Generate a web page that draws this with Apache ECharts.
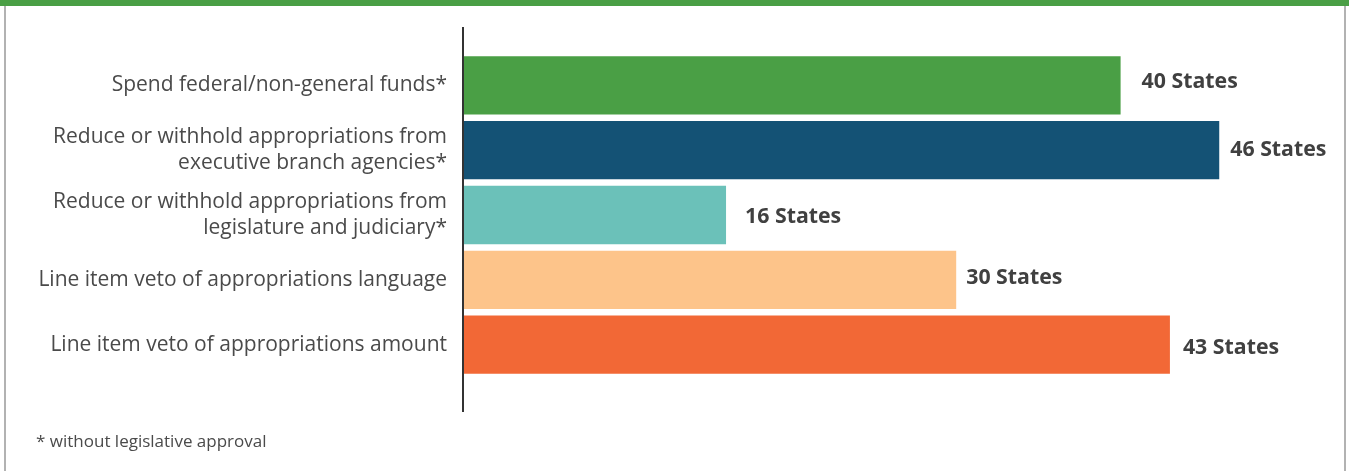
<!DOCTYPE html>
<html><head><meta charset="utf-8">
<script src="https://cdn.jsdelivr.net/npm/echarts@6/dist/echarts.min.js"></script>
<style>html,body{margin:0;padding:0;background:#fff}#c{width:1349px;height:471px}</style>
</head><body><div id="c"></div>
<script>
const categories = [
  "Spend federal/non-general funds*",
  "Reduce or withhold appropriations from\nexecutive branch agencies*",
  "Reduce or withhold appropriations from\nlegislature and judiciary*",
  "Line item veto of appropriations language",
  "Line item veto of appropriations amount"
];
const values = [40, 46, 16, 30, 43];
const colors = ["#4a9f45", "#145275", "#6bc1b9", "#fdc48a", "#f26836"];
const footnote = "* without legislative approval";
// label placement tweaks (gap from bar end, vertical shift)
const labelGap = [21, 11, 19, 10, 13];
const labelShift = [-3, 0, 2, -1.5, 3.5];

const chart = echarts.init(document.getElementById('c'), null, {renderer: 'canvas'});
const FONT = "'Open Sans', 'Noto Sans', sans-serif";
chart.setOption({
  animation: false,
  grid: {left: 463, right: 64, top: 53, bottom: 94, containLabel: false},
  xAxis: {type: 'value', min: 0, max: 50, show: false},
  yAxis: {
    type: 'category', inverse: true, data: categories,
    axisLine: {show: false}, axisTick: {show: false},
    axisLabel: {margin: 16, color: '#4a4a4a', fontSize: 21, fontFamily: FONT, lineHeight: 26, align: 'right'}
  },
  series: [{
    type: 'bar', barCategoryGap: '10%',
    data: values.map((v, i) => ({value: v, itemStyle: {color: colors[i]},
      label: {distance: labelGap[i], offset: [0, labelShift[i]]}})),
    label: {show: true, position: 'right', formatter: p => p.value + ' States',
      color: '#404040', fontSize: 21.3, fontWeight: 'bold', fontFamily: FONT}
  }],
  graphic: [
    {type: 'rect', shape: {x: 5, y: 0, width: 1340, height: 480}, style: {fill: 'none', stroke: '#999', lineWidth: 1.5}, z: 1},
    {type: 'rect', shape: {x: 0, y: 0, width: 1349, height: 6}, style: {fill: '#4a9f45'}, z: 2},
    {type: 'line', shape: {x1: 463, y1: 27, x2: 463, y2: 412}, style: {stroke: '#333', lineWidth: 2}, z: 10},
    {type: 'text', left: 36, top: 434, style: {text: footnote, fill: '#4a4a4a', font: "17px " + FONT}}
  ]
});
</script></body></html>
